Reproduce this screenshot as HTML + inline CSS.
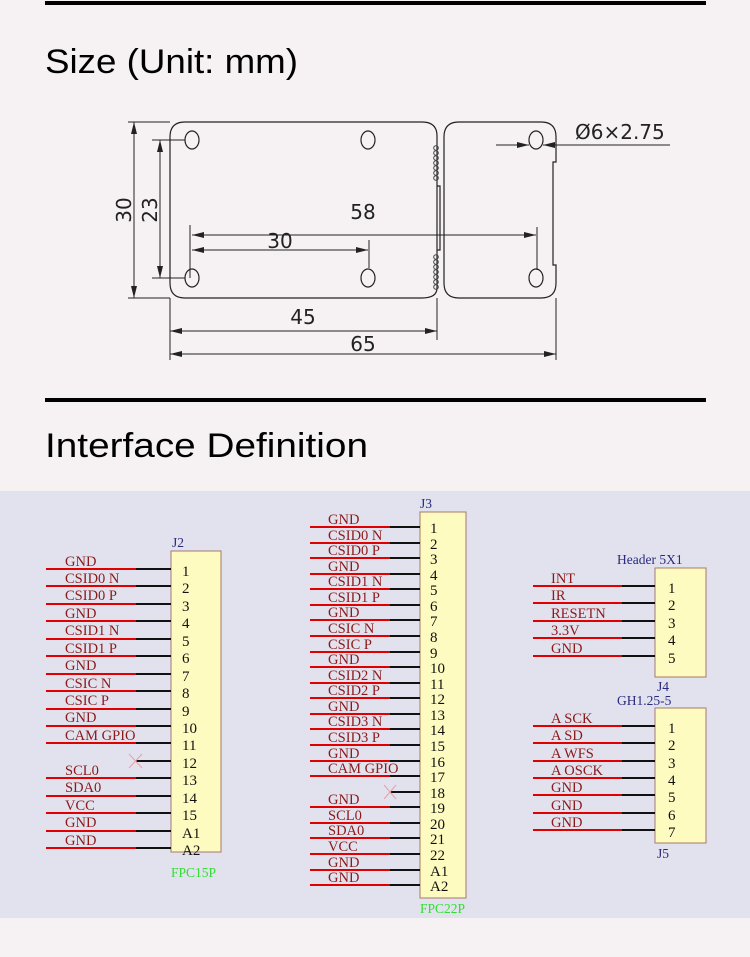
<!DOCTYPE html>
<html><head><meta charset="utf-8"><style>
html,body{margin:0;padding:0;background:#f6f2f3;}
svg{display:block}
.t{font-family:"Liberation Serif",serif;font-size:14.5px;fill:#8b1a1a}
.n{font-family:"Liberation Serif",serif;font-size:15px;fill:#111}
.b{font-family:"Liberation Serif",serif;font-size:13.5px;fill:#2a2a80}
.g{font-family:"Liberation Serif",serif;font-size:13.5px;fill:#33dd33}
.d{font-family:"DejaVu Sans",sans-serif;font-size:20px;fill:#222}
</style></head><body>
<svg width="750" height="957" viewBox="0 0 750 957" xmlns="http://www.w3.org/2000/svg">
<rect x="0" y="0" width="750" height="957" fill="#f6f2f3"/>
<rect x="45" y="1" width="661" height="4" fill="#000"/>
<text x="45" y="73" font-family="Liberation Sans,sans-serif" font-size="34" fill="#000" textLength="253" lengthAdjust="spacingAndGlyphs">Size (Unit: mm)</text>
<rect x="45" y="398" width="661" height="4" fill="#000"/>
<text x="45" y="457" font-family="Liberation Sans,sans-serif" font-size="34" fill="#000" textLength="323" lengthAdjust="spacingAndGlyphs">Interface Definition</text>

<!-- dimension drawing -->
<g fill="none" stroke="#222" stroke-width="1.2">
<path d="M185 122 H422 Q437 122 437 136 V288 Q437 298 422 298 H185 Q170 298 170 283 V137 Q170 122 185 122 Z"/>
<path d="M459 122 H541 Q556 122 556 137 V162 H553 V265 H556 V283 Q556 298 541 298 H459 Q444 298 444 283 V137 Q444 122 459 122 Z"/>
<path d="M437 186 H440 V250 H437"/>
<ellipse cx="192" cy="140" rx="7" ry="9"/><ellipse cx="368" cy="140" rx="7" ry="9"/><ellipse cx="536" cy="140" rx="7" ry="9"/>
<ellipse cx="192" cy="278" rx="7" ry="9"/><ellipse cx="368" cy="278" rx="7" ry="9"/><ellipse cx="536" cy="278" rx="7" ry="9"/>
</g>
<g fill="none" stroke="#444" stroke-width="1">
<circle cx="436" cy="148" r="2.3"/><circle cx="436" cy="153" r="2.3"/><circle cx="436" cy="158" r="2.3"/><circle cx="436" cy="163" r="2.3"/><circle cx="436" cy="168" r="2.3"/><circle cx="436" cy="173" r="2.3"/><circle cx="436" cy="178" r="2.3"/>
<circle cx="436" cy="257" r="2.3"/><circle cx="436" cy="262" r="2.3"/><circle cx="436" cy="267" r="2.3"/><circle cx="436" cy="272" r="2.3"/><circle cx="436" cy="277" r="2.3"/><circle cx="436" cy="282" r="2.3"/><circle cx="436" cy="287" r="2.3"/>
</g>
<g stroke="#222" stroke-width="1" fill="none">
<line x1="128" y1="122" x2="170" y2="122"/><line x1="128" y1="298" x2="170" y2="298"/>
<line x1="134" y1="122" x2="134" y2="298"/>
<line x1="152" y1="140" x2="185" y2="140"/><line x1="152" y1="278" x2="185" y2="278"/>
<line x1="160" y1="140" x2="160" y2="278"/>
<line x1="190" y1="225" x2="190" y2="278"/><line x1="537" y1="227" x2="537" y2="270"/>
<line x1="192" y1="235" x2="536" y2="235"/>
<line x1="369" y1="240" x2="369" y2="268"/>
<line x1="192" y1="250" x2="368" y2="250"/>
<line x1="170" y1="298" x2="170" y2="360"/><line x1="437" y1="298" x2="437" y2="340"/><line x1="556" y1="298" x2="556" y2="360"/>
<line x1="170" y1="331" x2="437" y2="331"/>
<line x1="170" y1="354" x2="556" y2="354"/>
<line x1="496" y1="145" x2="529" y2="145"/><line x1="543" y1="145" x2="670" y2="145"/>
</g>
<g fill="#222">
<path d="M134 122 l-3 12 h6z"/><path d="M134 298 l-3 -12 h6z"/>
<path d="M160 140 l-3 12 h6z"/><path d="M160 278 l-3 -12 h6z"/>
<path d="M192 235 l12 -3 v6z"/><path d="M536 235 l-12 -3 v6z"/>
<path d="M192 250 l12 -3 v6z"/><path d="M368 250 l-12 -3 v6z"/>
<path d="M170 331 l12 -3 v6z"/><path d="M437 331 l-12 -3 v6z"/>
<path d="M170 354 l12 -3 v6z"/><path d="M556 354 l-12 -3 v6z"/>
<path d="M529 145 l-12 -3 v6z"/><path d="M543 145 l12 -3 v6z"/>
</g>
<text class="d" x="0" y="0" transform="translate(131,210) rotate(-90)" text-anchor="middle">30</text>
<text class="d" x="0" y="0" transform="translate(157,210) rotate(-90)" text-anchor="middle">23</text>
<text class="d" x="363" y="219" text-anchor="middle">58</text>
<text class="d" x="280" y="248" text-anchor="middle">30</text>
<text class="d" x="303" y="324" text-anchor="middle">45</text>
<text class="d" x="363" y="351" text-anchor="middle">65</text>
<text class="d" x="575" y="139">Ø6×2.75</text>

<!-- schematic panel -->
<rect x="0" y="491" width="750" height="427" fill="#e2e2ee"/>

<!-- J2 -->
<rect x="171" y="551" width="50" height="301" fill="#fefbc0" stroke="#a5786a" stroke-width="1"/>
<text class="b" x="172" y="547">J2</text>
<text class="g" x="171" y="877">FPC15P</text>
<g stroke-width="2">
<g stroke="#e00000">
<line x1="46" y1="569" x2="136" y2="569"/><line x1="46" y1="586" x2="136" y2="586"/><line x1="46" y1="604" x2="136" y2="604"/><line x1="46" y1="621" x2="136" y2="621"/><line x1="46" y1="639" x2="136" y2="639"/><line x1="46" y1="656" x2="136" y2="656"/><line x1="46" y1="674" x2="136" y2="674"/><line x1="46" y1="691" x2="136" y2="691"/><line x1="46" y1="709" x2="136" y2="709"/><line x1="46" y1="726" x2="136" y2="726"/><line x1="46" y1="743" x2="136" y2="743"/><line x1="46" y1="778" x2="136" y2="778"/><line x1="46" y1="796" x2="136" y2="796"/><line x1="46" y1="813" x2="136" y2="813"/><line x1="46" y1="831" x2="136" y2="831"/><line x1="46" y1="848" x2="136" y2="848"/>
</g>
<g stroke="#111">
<line x1="136" y1="569" x2="171" y2="569"/><line x1="136" y1="586" x2="171" y2="586"/><line x1="136" y1="604" x2="171" y2="604"/><line x1="136" y1="621" x2="171" y2="621"/><line x1="136" y1="639" x2="171" y2="639"/><line x1="136" y1="656" x2="171" y2="656"/><line x1="136" y1="674" x2="171" y2="674"/><line x1="136" y1="691" x2="171" y2="691"/><line x1="136" y1="709" x2="171" y2="709"/><line x1="136" y1="726" x2="171" y2="726"/><line x1="136" y1="743" x2="171" y2="743"/><line x1="136" y1="761" x2="171" y2="761"/><line x1="136" y1="778" x2="171" y2="778"/><line x1="136" y1="796" x2="171" y2="796"/><line x1="136" y1="813" x2="171" y2="813"/><line x1="136" y1="831" x2="171" y2="831"/><line x1="136" y1="848" x2="171" y2="848"/>
</g></g>
<g stroke="#e8a0a8" stroke-width="1"><line x1="129" y1="754" x2="142" y2="768"/><line x1="142" y1="754" x2="129" y2="768"/></g>
<g class="t">
<text x="65" y="566">GND</text><text x="65" y="583">CSID0 N</text><text x="65" y="600">CSID0 P</text><text x="65" y="618">GND</text><text x="65" y="635">CSID1 N</text><text x="65" y="653">CSID1 P</text><text x="65" y="670">GND</text><text x="65" y="688">CSIC N</text><text x="65" y="705">CSIC P</text><text x="65" y="722">GND</text><text x="65" y="740">CAM GPIO</text><text x="65" y="775">SCL0</text><text x="65" y="792">SDA0</text><text x="65" y="810">VCC</text><text x="65" y="827">GND</text><text x="65" y="845">GND</text>
</g>
<g class="n">
<text x="182" y="576">1</text><text x="182" y="593">2</text><text x="182" y="611">3</text><text x="182" y="628">4</text><text x="182" y="646">5</text><text x="182" y="663">6</text><text x="182" y="681">7</text><text x="182" y="698">8</text><text x="182" y="716">9</text><text x="182" y="733">10</text><text x="182" y="750">11</text><text x="182" y="768">12</text><text x="182" y="785">13</text><text x="182" y="803">14</text><text x="182" y="820">15</text><text x="182" y="838">A1</text><text x="182" y="855">A2</text>
</g>

<!-- J3 -->
<rect x="420" y="512" width="46" height="386" fill="#fefbc0" stroke="#a5786a" stroke-width="1"/>
<text class="b" x="420" y="508">J3</text>
<text class="g" x="420" y="913">FPC22P</text>
<g stroke-width="2">
<g stroke="#e00000">
<line x1="310" y1="527" x2="390" y2="527"/><line x1="310" y1="543" x2="390" y2="543"/><line x1="310" y1="558" x2="390" y2="558"/><line x1="310" y1="574" x2="390" y2="574"/><line x1="310" y1="589" x2="390" y2="589"/><line x1="310" y1="605" x2="390" y2="605"/><line x1="310" y1="620" x2="390" y2="620"/><line x1="310" y1="636" x2="390" y2="636"/><line x1="310" y1="652" x2="390" y2="652"/><line x1="310" y1="667" x2="390" y2="667"/><line x1="310" y1="683" x2="390" y2="683"/><line x1="310" y1="698" x2="390" y2="698"/><line x1="310" y1="714" x2="390" y2="714"/><line x1="310" y1="729" x2="390" y2="729"/><line x1="310" y1="745" x2="390" y2="745"/><line x1="310" y1="761" x2="390" y2="761"/><line x1="310" y1="776" x2="390" y2="776"/><line x1="310" y1="807" x2="390" y2="807"/><line x1="310" y1="823" x2="390" y2="823"/><line x1="310" y1="838" x2="390" y2="838"/><line x1="310" y1="854" x2="390" y2="854"/><line x1="310" y1="870" x2="390" y2="870"/><line x1="310" y1="885" x2="390" y2="885"/>
</g>
<g stroke="#111">
<line x1="390" y1="527" x2="420" y2="527"/><line x1="390" y1="543" x2="420" y2="543"/><line x1="390" y1="558" x2="420" y2="558"/><line x1="390" y1="574" x2="420" y2="574"/><line x1="390" y1="589" x2="420" y2="589"/><line x1="390" y1="605" x2="420" y2="605"/><line x1="390" y1="620" x2="420" y2="620"/><line x1="390" y1="636" x2="420" y2="636"/><line x1="390" y1="652" x2="420" y2="652"/><line x1="390" y1="667" x2="420" y2="667"/><line x1="390" y1="683" x2="420" y2="683"/><line x1="390" y1="698" x2="420" y2="698"/><line x1="390" y1="714" x2="420" y2="714"/><line x1="390" y1="729" x2="420" y2="729"/><line x1="390" y1="745" x2="420" y2="745"/><line x1="390" y1="761" x2="420" y2="761"/><line x1="390" y1="776" x2="420" y2="776"/><line x1="390" y1="792" x2="420" y2="792"/><line x1="390" y1="807" x2="420" y2="807"/><line x1="390" y1="823" x2="420" y2="823"/><line x1="390" y1="838" x2="420" y2="838"/><line x1="390" y1="854" x2="420" y2="854"/><line x1="390" y1="870" x2="420" y2="870"/><line x1="390" y1="885" x2="420" y2="885"/>
</g></g>
<g stroke="#e8a0a8" stroke-width="1"><line x1="384" y1="785" x2="396" y2="799"/><line x1="396" y1="785" x2="384" y2="799"/></g>
<g class="t">
<text x="328" y="524">GND</text><text x="328" y="540">CSID0 N</text><text x="328" y="555">CSID0 P</text><text x="328" y="571">GND</text><text x="328" y="586">CSID1 N</text><text x="328" y="602">CSID1 P</text><text x="328" y="617">GND</text><text x="328" y="633">CSIC N</text><text x="328" y="649">CSIC P</text><text x="328" y="664">GND</text><text x="328" y="680">CSID2 N</text><text x="328" y="695">CSID2 P</text><text x="328" y="711">GND</text><text x="328" y="726">CSID3 N</text><text x="328" y="742">CSID3 P</text><text x="328" y="758">GND</text><text x="328" y="773">CAM GPIO</text><text x="328" y="804">GND</text><text x="328" y="820">SCL0</text><text x="328" y="835">SDA0</text><text x="328" y="851">VCC</text><text x="328" y="867">GND</text><text x="328" y="882">GND</text>
</g>
<g class="n">
<text x="430" y="533">1</text><text x="430" y="549">2</text><text x="430" y="564">3</text><text x="430" y="580">4</text><text x="430" y="595">5</text><text x="430" y="611">6</text><text x="430" y="626">7</text><text x="430" y="642">8</text><text x="430" y="658">9</text><text x="430" y="673">10</text><text x="430" y="689">11</text><text x="430" y="704">12</text><text x="430" y="720">13</text><text x="430" y="735">14</text><text x="430" y="751">15</text><text x="430" y="767">16</text><text x="430" y="782">17</text><text x="430" y="798">18</text><text x="430" y="813">19</text><text x="430" y="829">20</text><text x="430" y="844">21</text><text x="430" y="860">22</text><text x="430" y="876">A1</text><text x="430" y="891">A2</text>
</g>

<!-- J4 -->
<rect x="655" y="568" width="51" height="109" fill="#fefbc0" stroke="#a5786a" stroke-width="1"/>
<text class="b" x="617" y="564">Header 5X1</text>
<text class="b" x="657" y="691">J4</text>
<g stroke-width="2">
<g stroke="#e00000"><line x1="533" y1="586" x2="622" y2="586"/><line x1="533" y1="603" x2="622" y2="603"/><line x1="533" y1="621" x2="622" y2="621"/><line x1="533" y1="638" x2="622" y2="638"/><line x1="533" y1="656" x2="622" y2="656"/></g>
<g stroke="#111"><line x1="622" y1="586" x2="655" y2="586"/><line x1="622" y1="603" x2="655" y2="603"/><line x1="622" y1="621" x2="655" y2="621"/><line x1="622" y1="638" x2="655" y2="638"/><line x1="622" y1="656" x2="655" y2="656"/></g>
</g>
<g class="t"><text x="551" y="583">INT</text><text x="551" y="600">IR</text><text x="551" y="618">RESETN</text><text x="551" y="635">3.3V</text><text x="551" y="653">GND</text></g>
<g class="n"><text x="668" y="593">1</text><text x="668" y="610">2</text><text x="668" y="628">3</text><text x="668" y="645">4</text><text x="668" y="663">5</text></g>

<!-- J5 -->
<rect x="655" y="708" width="51" height="135" fill="#fefbc0" stroke="#a5786a" stroke-width="1"/>
<text class="b" x="617" y="705">GH1.25-5</text>
<text class="b" x="657" y="858">J5</text>
<g stroke-width="2">
<g stroke="#e00000"><line x1="533" y1="726" x2="622" y2="726"/><line x1="533" y1="743" x2="622" y2="743"/><line x1="533" y1="761" x2="622" y2="761"/><line x1="533" y1="778" x2="622" y2="778"/><line x1="533" y1="795" x2="622" y2="795"/><line x1="533" y1="813" x2="622" y2="813"/><line x1="533" y1="830" x2="622" y2="830"/></g>
<g stroke="#111"><line x1="622" y1="726" x2="655" y2="726"/><line x1="622" y1="743" x2="655" y2="743"/><line x1="622" y1="761" x2="655" y2="761"/><line x1="622" y1="778" x2="655" y2="778"/><line x1="622" y1="795" x2="655" y2="795"/><line x1="622" y1="813" x2="655" y2="813"/><line x1="622" y1="830" x2="655" y2="830"/></g>
</g>
<g class="t"><text x="551" y="723">A SCK</text><text x="551" y="740">A SD</text><text x="551" y="758">A WFS</text><text x="551" y="775">A OSCK</text><text x="551" y="792">GND</text><text x="551" y="810">GND</text><text x="551" y="827">GND</text></g>
<g class="n"><text x="668" y="733">1</text><text x="668" y="750">2</text><text x="668" y="768">3</text><text x="668" y="785">4</text><text x="668" y="802">5</text><text x="668" y="820">6</text><text x="668" y="837">7</text></g>
</svg>
</body></html>
